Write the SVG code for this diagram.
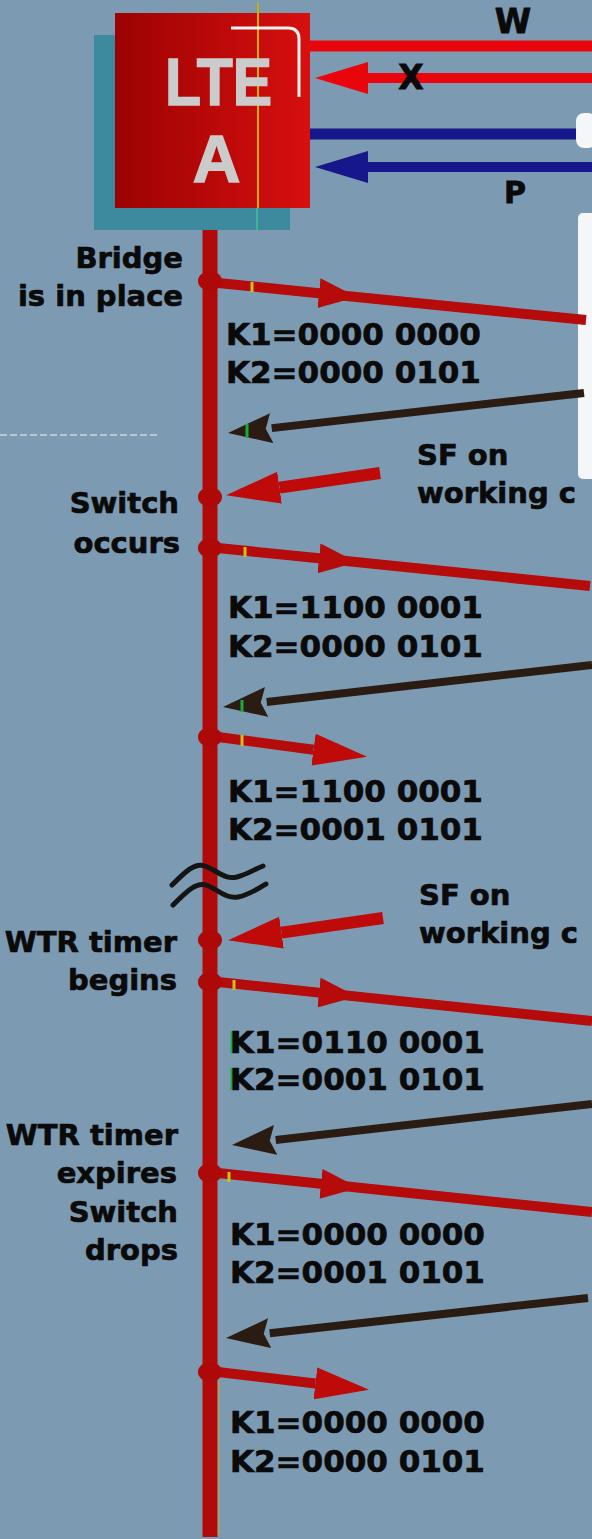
<svg xmlns="http://www.w3.org/2000/svg" width="592" height="1539" viewBox="0 0 592 1539">
<style>
.lbl{font-family:"DejaVu Sans","Liberation Sans",sans-serif;font-weight:bold;font-size:29px;fill:#0a0a0a;stroke:#0a0a0a;stroke-width:0.7}
.k{font-family:"DejaVu Sans","Liberation Sans",sans-serif;font-weight:bold;font-size:31px;fill:#0a0a0a;stroke:#0a0a0a;stroke-width:0.7}
.big{font-family:"DejaVu Sans","Liberation Sans",sans-serif;font-weight:bold;fill:#0a0a0a;stroke:#0a0a0a;stroke-width:0.8}
.box{font-family:"Liberation Sans",Arial,sans-serif;font-weight:bold;fill:#cbcbcb;stroke:#cbcbcb;stroke-width:1.5}
.main{fill:none;stroke:#b50b0b;stroke-width:10;stroke-linecap:butt}
.sf{fill:none;stroke:#bf0a0a;stroke-width:12}
.dark{fill:none;stroke:#2a1c12;stroke-width:8}
.dot{fill:#ad0909}
.ytick{stroke:#c9c21a;stroke-width:3}
.gtick{stroke:#1fa83a;stroke-width:3}
</style>
<defs>
<linearGradient id="boxg" x1="0" y1="0" x2="1" y2="0">
<stop offset="0" stop-color="#9c0202"/>
<stop offset="1" stop-color="#d70f0f"/>
</linearGradient>
<marker id="hMid" markerUnits="userSpaceOnUse" viewBox="0 -16 40 32" markerWidth="40" markerHeight="32" refX="0" refY="0" orient="auto">
<path d="M0,-15 L38,0 L0,15 Z" fill="#b50b0b"/>
</marker>
<marker id="hRed" markerUnits="userSpaceOnUse" viewBox="0 -17 56 34" markerWidth="56" markerHeight="34" refX="0" refY="0" orient="auto">
<path d="M0,-16 L54,0 L0,16 Z" fill="#bf0a0a"/>
</marker>
<marker id="hDark" markerUnits="userSpaceOnUse" viewBox="0 -16 46 32" markerWidth="46" markerHeight="32" refX="0" refY="0" orient="auto">
<path d="M0,-15 L44,0 L0,15 L6,0 Z" fill="#2a1c12"/>
</marker>
<marker id="hBig" markerUnits="userSpaceOnUse" viewBox="0 -17 55 34" markerWidth="55" markerHeight="34" refX="0" refY="0" orient="auto">
<path d="M0,-16 L53,0 L0,16 Z" fill="#e8060c"/>
</marker>
<marker id="hNavy" markerUnits="userSpaceOnUse" viewBox="0 -17 55 34" markerWidth="55" markerHeight="34" refX="0" refY="0" orient="auto">
<path d="M0,-16 L53,0 L0,16 Z" fill="#16178a"/>
</marker>
</defs>

<rect x="0" y="0" width="592" height="1539" fill="#7c9bb3"/>
<!-- right edge white strip -->
<rect x="576" y="113" width="20" height="35" rx="8" fill="#f4f6f8"/>
<rect x="578" y="213" width="18" height="266" rx="5" fill="#f4f6f8"/>
<!-- scan artifact -->
<line x1="0" y1="435" x2="160" y2="435" stroke="#dfe6ec" stroke-width="1.5" stroke-dasharray="7 3" opacity="0.8"/>

<g id="timeline">
<rect x="202.5" y="200" width="15" height="1337" fill="#b00a0a"/>
<line x1="218.5" y1="1380" x2="218.5" y2="1535" stroke="#c9a82a" stroke-width="1.5" opacity="0.7"/>
</g>

<g id="lte-a">
<rect x="94" y="35" width="196" height="195" fill="#3d8a9e"/>
<rect x="115" y="13" width="195" height="195" fill="url(#boxg)"/>
<line x1="258" y1="3" x2="258" y2="208" stroke="#c8b400" stroke-width="2"/>
<line x1="257" y1="208" x2="257" y2="230" stroke="#3fb49a" stroke-width="2"/>
<path d="M231,28 H288 Q299,28 299,39 V97" fill="none" stroke="#f2f2f2" stroke-width="3"/>
<text class="box" x="165" y="105" font-size="67" textLength="107" lengthAdjust="spacingAndGlyphs">LTE</text>
<text class="box" x="216.5" y="182" font-size="66" text-anchor="middle">A</text>
</g>

<g id="connectors">
<!-- W / X / P lines -->
<line x1="310" y1="46" x2="592" y2="46" stroke="#e8060c" stroke-width="11"/>
<path d="M592,78 L368,78" fill="none" stroke="#e8060c" stroke-width="10" marker-end="url(#hBig)"/>
<line x1="310" y1="134" x2="576" y2="134" stroke="#16178a" stroke-width="11"/>
<path d="M592,167 L368,167" fill="none" stroke="#16178a" stroke-width="10" marker-end="url(#hNavy)"/>

<!-- main outgoing arrows -->
<path class="main" d="M218,283 L319,293.2 L586,320" marker-mid="url(#hMid)"/>
<path class="main" d="M218,548 L319,558.3 L590,586" marker-mid="url(#hMid)"/>
<path class="main" d="M218,982 L319,992.6 L592,1021" marker-mid="url(#hMid)"/>
<path class="main" d="M218,1173 L321,1183.8 L592,1212" marker-mid="url(#hMid)"/>
<!-- short outgoing arrows -->
<path class="main" d="M218,737 L313.5,749.7" marker-end="url(#hRed)"/>
<path class="main" d="M218,1372 L315.4,1383.5" marker-end="url(#hRed)"/>
<!-- SF arrows -->
<path class="sf" d="M380,473 L279.5,487.6" marker-end="url(#hRed)"/>
<path class="sf" d="M383,918 L281.5,932.6" marker-end="url(#hRed)"/>
<!-- incoming dark arrows -->
<path class="dark" d="M584,393 L271.7,428.1" marker-end="url(#hDark)"/>
<path class="dark" d="M592,665 L266.7,702" marker-end="url(#hDark)"/>
<path class="dark" d="M592,1104 L275.7,1140" marker-end="url(#hDark)"/>
<path class="dark" d="M588,1298 L269.7,1333.2" marker-end="url(#hDark)"/>

<!-- break symbol -->
<path d="M172,885 C185,872 195,862 205,866 C218,871 225,880 237,877 C248,874 255,869 263,866" fill="none" stroke="#141414" stroke-width="5" stroke-linecap="round"/>
<path d="M173,905 C186,892 196,882 206,885 C219,890 226,899 238,897 C249,895 257,889 266,884" fill="none" stroke="#141414" stroke-width="5" stroke-linecap="round"/>

<!-- colour ticks -->
<line class="ytick" x1="252" y1="282" x2="252" y2="292"/>
<line class="ytick" x1="245" y1="547" x2="245" y2="557"/>
<line class="ytick" x1="242" y1="735" x2="242" y2="746"/>
<line class="ytick" x1="234" y1="980" x2="234" y2="990"/>
<line class="ytick" x1="229" y1="1172" x2="229" y2="1182"/>
<line class="gtick" x1="247" y1="424" x2="247" y2="438"/>
<line class="gtick" x1="242" y1="700" x2="242" y2="712"/>
<line class="gtick" x1="232" y1="1031" x2="232" y2="1053"/>
<line class="gtick" x1="232" y1="1068" x2="232" y2="1090"/>
</g>

<g id="dots">
<ellipse class="dot" cx="210" cy="281" rx="12" ry="10"/>
<ellipse class="dot" cx="210" cy="497" rx="12" ry="10"/>
<ellipse class="dot" cx="210" cy="548" rx="12" ry="10"/>
<ellipse class="dot" cx="210" cy="737" rx="12" ry="10"/>
<ellipse class="dot" cx="210" cy="940" rx="12" ry="10"/>
<ellipse class="dot" cx="210" cy="982" rx="12" ry="10"/>
<ellipse class="dot" cx="210" cy="1173" rx="12" ry="10"/>
<ellipse class="dot" cx="210" cy="1372" rx="12" ry="10"/>
</g>

<g id="labels">
<text class="big" x="513" y="33" font-size="33" text-anchor="middle">W</text>
<text class="big" x="411" y="89" font-size="33" text-anchor="middle">X</text>
<text class="big" x="515" y="203" font-size="30" text-anchor="middle">P</text>

<text class="lbl" x="183" y="268" text-anchor="end">Bridge</text>
<text class="lbl" x="183" y="306" text-anchor="end">is in place</text>
<text class="lbl" x="179" y="513" text-anchor="end">Switch</text>
<text class="lbl" x="180" y="553" text-anchor="end">occurs</text>
<text class="lbl" x="177" y="952" text-anchor="end">WTR timer</text>
<text class="lbl" x="177" y="990" text-anchor="end">begins</text>
<text class="lbl" x="178" y="1145" text-anchor="end">WTR timer</text>
<text class="lbl" x="177" y="1183" text-anchor="end">expires</text>
<text class="lbl" x="178" y="1222" text-anchor="end">Switch</text>
<text class="lbl" x="178" y="1260" text-anchor="end">drops</text>

<text class="lbl" x="417" y="465">SF on</text>
<text class="lbl" x="417" y="503">working c</text>
<text class="lbl" x="419" y="905">SF on</text>
<text class="lbl" x="419" y="943">working c</text>

<text class="k" x="226" y="345">K1=0000 0000</text>
<text class="k" x="226" y="383">K2=0000 0101</text>
<text class="k" x="228" y="618">K1=1100 0001</text>
<text class="k" x="228" y="657">K2=0000 0101</text>
<text class="k" x="228" y="802">K1=1100 0001</text>
<text class="k" x="228" y="840">K2=0001 0101</text>
<text class="k" x="230" y="1053">K1=0110 0001</text>
<text class="k" x="230" y="1090">K2=0001 0101</text>
<text class="k" x="230" y="1245">K1=0000 0000</text>
<text class="k" x="230" y="1283">K2=0001 0101</text>
<text class="k" x="230" y="1433">K1=0000 0000</text>
<text class="k" x="230" y="1472">K2=0000 0101</text>
</g>
</svg>
